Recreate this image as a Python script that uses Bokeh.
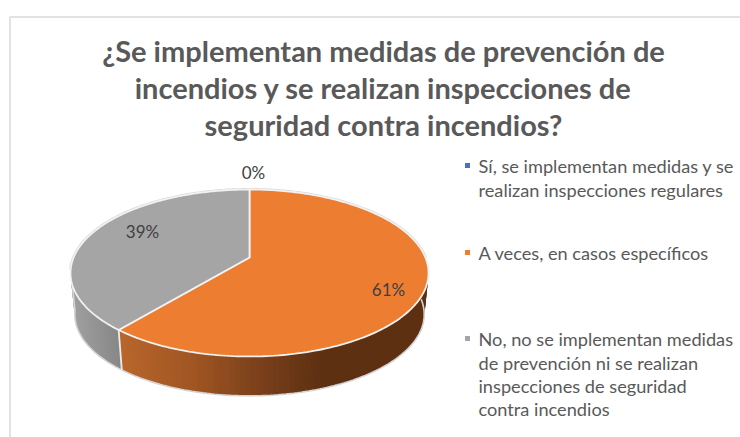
import numpy as np
from bokeh.core.properties import value
from bokeh.embed import file_html
from bokeh.models import Range1d
from bokeh.plotting import figure
from bokeh.resources import INLINE

# ---- data ----
categories = [
    "Sí, se implementan medidas y se realizan inspecciones regulares",
    "A veces, en casos específicos",
    "No, no se implementan medidas de prevención ni se realizan inspecciones de seguridad contra incendios",
]
shares = [0, 61, 39]
share_labels = ["0%", "61%", "39%"]
title_lines = [
    "¿Se implementan medidas de prevención de",
    "incendios y se realizan inspecciones de",
    "seguridad contra incendios?",
]
legend_lines = [
    ["Sí, se implementan medidas y se", "realizan inspecciones regulares"],
    ["A veces, en casos específicos"],
    ["No, no se implementan medidas", "de prevención ni se realizan",
     "inspecciones de seguridad", "contra incendios"],
]

# ---- style / layout ----
colors = ["#4472C4", "#ED7D31", "#A5A5A5"]
W, H = 740, 437
FONT = "Lato"
TXT = "#595959"
CX, APEX_Y, R, C, K = 249.0, 257.0, 175.9, 0.1856, 32.9   # perspective disc
S, VY = 0.976, 1996.0                                     # lower rim scale


def top_rim(t_deg, r=1.0):
    t = np.radians(t_deg)
    u, v = r * np.sin(t), r * np.cos(t)
    d = 1 + C * v
    return CX + R * u / d, (APEX_Y - K * v) / d


def low_rim(t_deg):
    x, y = top_rim(t_deg)
    return CX + S * (x - CX), VY + S * (y - VY)


def hex_mix(x, xs, cs):
    rgb = [np.interp(x, xs, [int(c[i:i + 2], 16) for c in cs]) for i in (1, 3, 5)]
    return "#%02x%02x%02x" % tuple(int(round(a)) for a in rgb)


ORANGE_X = [120, 193, 250, 320, 430]
ORANGE_C = ["#B8662B", "#A05522", "#7F431C", "#5E3012", "#5E3012"]
GRAY_X = [70, 120]
GRAY_C = ["#A0A0A0", "#868686"]

p = figure(width=W, height=H, output_backend="svg", toolbar_location=None,
           x_range=Range1d(0, W), y_range=Range1d(H, 0),
           min_border=0, outline_line_color=None, background_fill_color="white")
p.axis.visible = False
p.grid.visible = False

# chart frame
p.line([9.5, 9.5, W], [H, 16.5, 16.5], line_color="#e2e2e2", line_width=2)

# slice angles, clockwise from 12 o'clock
total = sum(shares)
edges = np.cumsum([0] + shares) / total * 360.0

# side wall: overlapping strips following the rim, drawn below the top face
xs, ys, cols = [], [], []
wall_arcs = [(80.0, edges[2], ORANGE_X, ORANGE_C), (280.0, edges[2], GRAY_X, GRAY_C)]
for a0, a1, gx, gc in wall_arcs:
    ts = np.linspace(a0, a1, int(abs(a1 - a0) / 1.5) + 2)
    step = ts[1] - ts[0]
    for t0, t1 in zip(ts[:-1], ts[1:]):
        t2 = t1 + (0 if t1 == ts[-1] else step)
        x0, y0 = top_rim(t0)
        x1, y1 = top_rim(t2)
        x2, y2 = low_rim(t2)
        x3, y3 = low_rim(t0)
        xs.append([x0, x1, x2, x3])
        ys.append([y0, y1, y2, y3])
        cols.append(hex_mix((x0 + top_rim(t1)[0]) / 2, gx, gc))
p.patches(xs, ys, fill_color=cols, line_color=None)

# lower rim highlight, with the left silhouette of the wall
ts = np.linspace(90, 262, 160)
lx, ly = low_rim(ts)
tx, ty = top_rim(262.0)
p.line(np.r_[lx, tx], np.r_[ly, ty], line_color="#d4d4d4", line_width=1.6)

# seam between the two wall parts
sx0, sy0 = top_rim(edges[2])
sx1, sy1 = low_rim(edges[2])
p.line([sx0, sx1], [sy0, sy1], line_color="#ececec", line_width=1.8)

# soft outer edge round the far side of the disc
ts = np.linspace(262, 450, 200)
ox, oy = top_rim(ts)
p.line(ox, oy, line_color="#d6d6d6", line_width=3)

# top faces
for i, share in enumerate(shares):
    if share == 0:
        continue
    ts = np.linspace(edges[i], edges[i + 1], 200)
    rx, ry = top_rim(ts)
    p.patch(np.r_[CX, rx], np.r_[APEX_Y, ry], fill_color=colors[i],
            line_color="#f2f2f2", line_width=1.8)

# texts
for line, y in zip(title_lines, [50, 87, 124]):
    p.text([383], [y], text=[line], text_font=value(FONT), text_font_style="bold",
           text_font_size="29px", text_color=TXT, text_align="center",
           text_baseline="middle")

label_pos = [(253, 172), (388, 289), (142, 231)]
for lab, (lxp, lyp) in zip(share_labels, label_pos):
    p.text([lxp], [lyp], text=[lab], text_font=value(FONT), text_font_size="17px",
           text_color="#404040", text_align="center", text_baseline="middle")

legend_y = [[165, 189], [252], [338, 362, 385, 408]]
for lines, ypos, color in zip(legend_lines, legend_y, colors):
    p.scatter([467], [ypos[0]], marker="square", size=5, fill_color=color, line_color=None)
    for line, y in zip(lines, ypos):
        p.text([478], [y], text=[line], text_font=value(FONT), text_font_size="18.2px",
               text_color=TXT, text_align="left", text_baseline="middle")

open("out.html", "w").write(file_html(p, INLINE))
